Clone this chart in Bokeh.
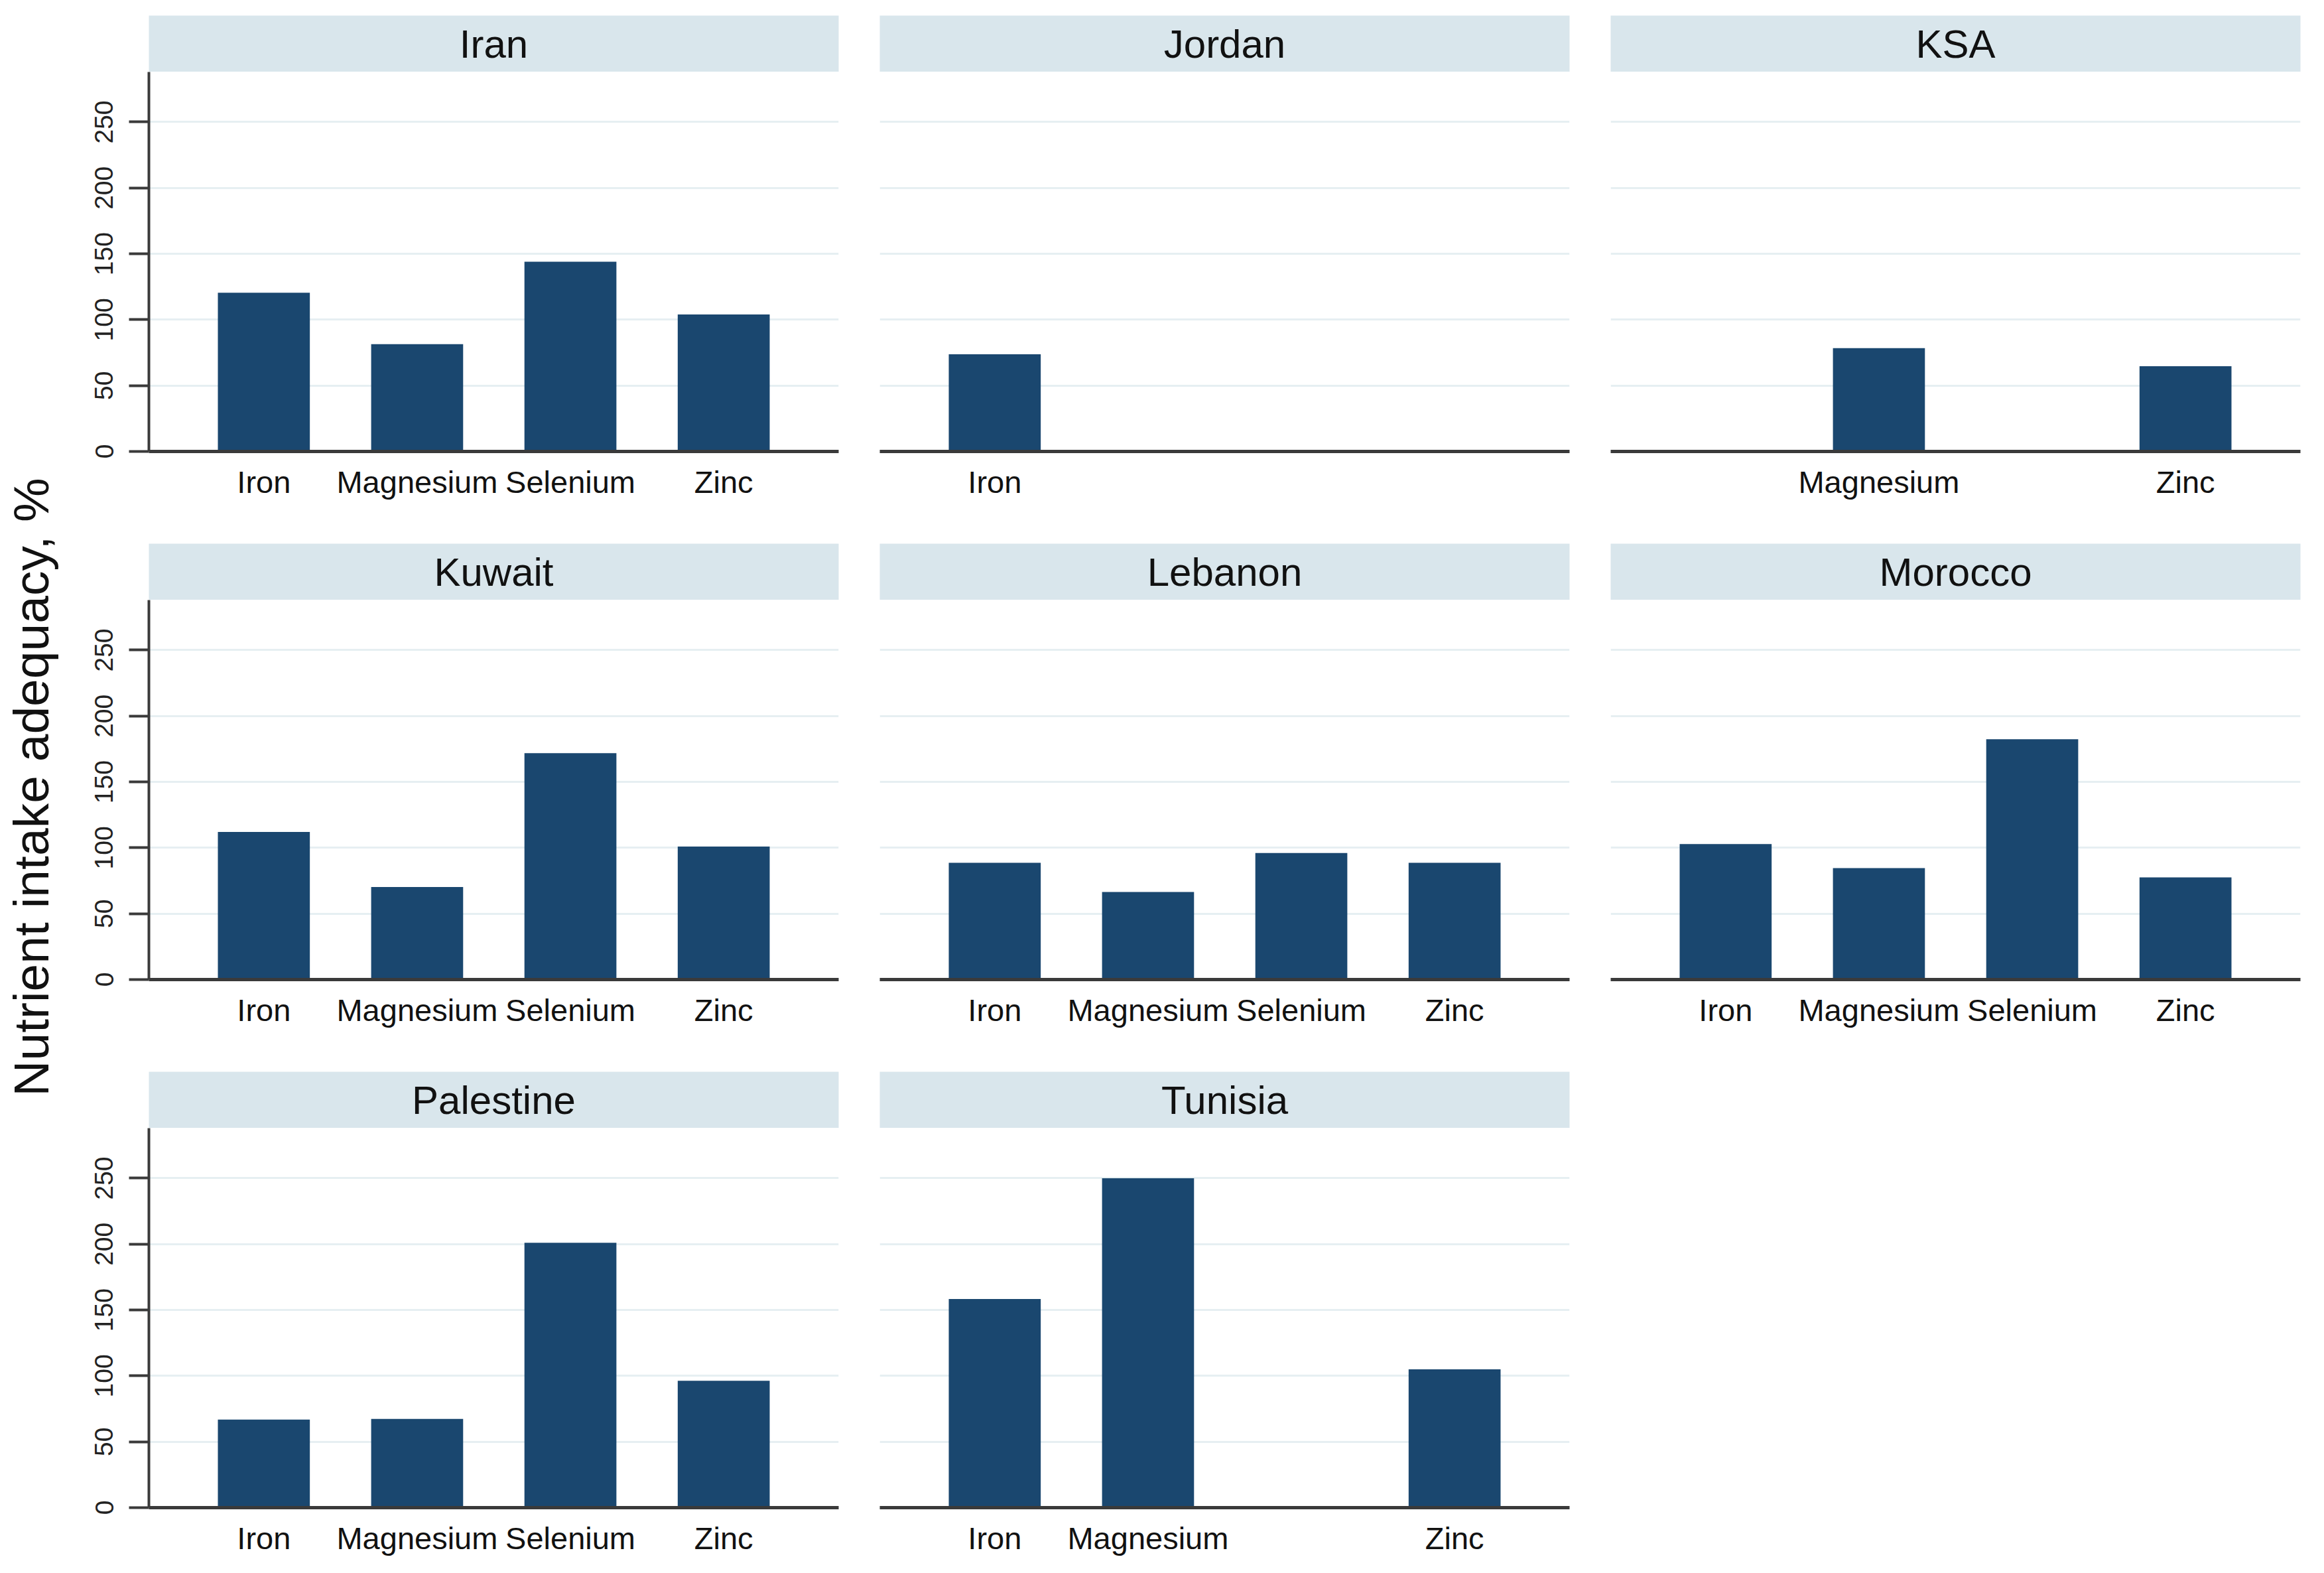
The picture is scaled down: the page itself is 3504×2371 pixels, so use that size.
import math
from bokeh.plotting import figure
from bokeh.layouts import row, column
from bokeh.models import Range1d, FixedTicker, Label, Spacer
from bokeh.embed import file_html
from bokeh.resources import INLINE

# ---------------- data ----------------
nutrients = ["Iron", "Magnesium", "Selenium", "Zinc"]
countries = ["Iran", "Jordan", "KSA", "Kuwait", "Lebanon", "Morocco", "Palestine", "Tunisia"]
iran = [120.5, 81.5, 144.0, 104.0]
jordan = [73.8, None, None, None]
ksa = [None, 78.4, None, 64.7]
kuwait = [112.0, 70.3, 171.8, 101.0]
lebanon = [88.6, 66.5, 96.1, 88.6]
morocco = [102.9, 84.6, 182.4, 77.6]
palestine = [66.8, 67.3, 201.0, 96.3]
tunisia = [158.4, 250.0, None, 105.0]
y_ticks = [0, 50, 100, 150, 200, 250]
y_label = "Nutrient intake adequacy, %"

series = dict(zip(countries, [iran, jordan, ksa, kuwait, lebanon, morocco, palestine, tunisia]))

# ---------------- style ----------------
BAR = "#1A476F"
STRIP = "#D9E6EC"
GRID = "#E6EFF2"
AXIS = "#3A3A3A"
FONT = "Liberation Sans"

FW = 1040
FH = 572
STRIP_TOPS = [23, 17, 17]
STRIP_H = 85
BORDERS = [(118, 30), (32, 29), (33, 19)]  # (left, right) per column
BOTTOMS = [122, 122, 83]


def strip_fig(name, col, rowi):
    left, right = BORDERS[col]
    top = STRIP_TOPS[rowi]
    s = figure(width=left + FW + right, height=top + STRIP_H,
               x_range=Range1d(0, 1), y_range=Range1d(0, 1),
               x_axis_location=None, y_axis_location=None,
               min_border_left=left, min_border_right=right,
               min_border_top=top, min_border_bottom=0,
               toolbar_location=None, output_backend="svg",
               background_fill_color=STRIP, border_fill_color="white",
               outline_line_color=None)
    s.grid.visible = False
    s.add_layout(Label(x=0.5, y=0.5, text=name, text_align="center",
                       text_baseline="middle", text_font=FONT,
                       text_font_size="60px", text_color="#111111"))
    return s


def panel_fig(name, col, rowi):
    left, right = BORDERS[col]
    bottom = BOTTOMS[rowi]
    vals = series[name]
    p = figure(width=left + FW + right, height=FH + bottom,
               x_range=Range1d(0.25, 4.75), y_range=Range1d(0, 288),
               y_axis_location="left" if col == 0 else None,
               min_border_left=left, min_border_right=right,
               min_border_top=0, min_border_bottom=bottom,
               toolbar_location=None, output_backend="svg",
               background_fill_color="white", border_fill_color="white",
               outline_line_color=None)
    xs = [i + 1 for i, v in enumerate(vals) if v is not None]
    tops = [v for v in vals if v is not None]
    p.vbar(x=xs, top=tops, width=0.6, bottom=0, fill_color=BAR, line_color=None)

    p.xgrid.visible = False
    p.ygrid.ticker = FixedTicker(ticks=y_ticks)
    p.ygrid.grid_line_color = GRID
    p.ygrid.grid_line_width = 3

    xa = p.xaxis[0]
    xa.ticker = FixedTicker(ticks=xs)
    xa.major_label_overrides = {i + 1: n for i, n in enumerate(nutrients)}
    xa.major_tick_line_color = None
    xa.minor_tick_line_color = None
    xa.axis_line_color = AXIS
    xa.axis_line_width = 5
    xa.major_label_standoff = 13
    xa.major_label_text_font = FONT
    xa.major_label_text_font_size = "47px"
    xa.major_label_text_color = "#111111"

    if col == 0:
        ya = p.yaxis[0]
        ya.ticker = FixedTicker(ticks=y_ticks)
        ya.axis_line_color = AXIS
        ya.axis_line_width = 4
        ya.major_tick_line_color = AXIS
        ya.major_tick_line_width = 4
        ya.major_tick_out = 30
        ya.major_tick_in = 0
        ya.minor_tick_line_color = None
        ya.major_label_orientation = "vertical"
        ya.major_label_standoff = 24
        ya.major_label_text_font = FONT
        ya.major_label_text_font_size = "39px"
        ya.major_label_text_color = "#222222"
    return p


layout_cols = [
    ["Iran", "Kuwait", "Palestine"],
    ["Jordan", "Lebanon", "Tunisia"],
    ["KSA", "Morocco", None],
]

cols = []
for ci, names in enumerate(layout_cols):
    items = []
    for ri, name in enumerate(names):
        if name is None:
            left, right = BORDERS[ci]
            items.append(Spacer(width=left + FW + right,
                                height=STRIP_TOPS[ri] + STRIP_H + FH + BOTTOMS[ri]))
        else:
            items.append(strip_fig(name, ci, ri))
            items.append(panel_fig(name, ci, ri))
    cols.append(column(*items, spacing=0))

TOTAL_H = sum(t + STRIP_H + FH + b for t, b in zip(STRIP_TOPS, BOTTOMS))
LW = 106
lab = figure(width=LW, height=TOTAL_H, x_range=Range1d(0, LW), y_range=Range1d(0, TOTAL_H),
             x_axis_location=None, y_axis_location=None,
             min_border_left=0, min_border_right=0, min_border_top=0, min_border_bottom=0,
             toolbar_location=None, output_backend="svg", outline_line_color=None,
             background_fill_color="white", border_fill_color="white")
lab.grid.visible = False
lab.add_layout(Label(x=46, y=TOTAL_H - 1186, text=y_label, angle=math.pi / 2,
                     text_align="center", text_baseline="middle",
                     text_font=FONT, text_font_size="75px", text_color="#111111"))

page = row(lab, *cols, spacing=0)

open("out.html", "w").write(file_html(page, INLINE))
